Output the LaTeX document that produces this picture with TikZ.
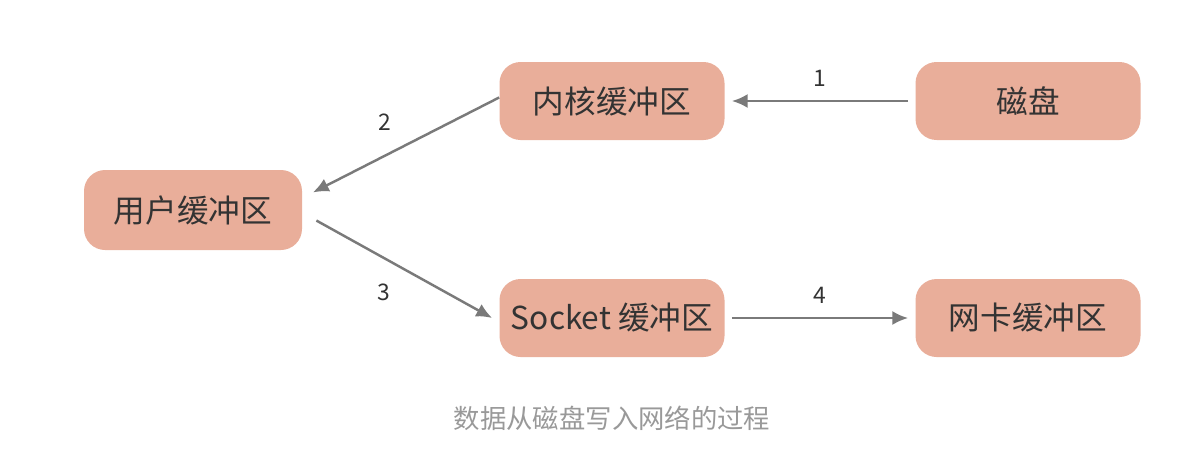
\documentclass[tikz,border=0pt]{standalone}
\usepackage{fontspec}
\setmainfont{Noto Sans CJK SC}
\usetikzlibrary{positioning}
\usetikzlibrary{arrows.meta}
\definecolor{boxfill}{HTML}{E9AE9A}
\definecolor{arrowgray}{HTML}{7A7A7A}
\tikzset{
	buffer/.style = {draw=none, fill=boxfill, rounded corners=12pt, minimum width=4.5cm, minimum height=1.56cm, font=\fontsize{18}{20}\selectfont, text=black!80},
	flow/.style = {-{Latex[length=9pt,width=8pt]}, line width=1.4pt, arrowgray},
	stepnum/.style = {font=\fontsize{13}{15}\selectfont, text=black!80}
}
\begin{document}
\begin{tikzpicture}
		\useasboundingbox (0,0) rectangle (24,-9.08);
		% buffers
		\node[buffer] (kernel) at (12.24,-2.02) {内核缓冲区};
		\node[buffer] (disk) at (20.56,-2.02) {磁盘};
		\node[buffer, minimum width=4.36cm, minimum height=1.6cm] (user) at (3.86,-4.2) {用户缓冲区};
		\node[buffer] (socket) at (12.24,-6.36) {Socket 缓冲区};
		\node[buffer] (nic) at (20.56,-6.36) {网卡缓冲区};
		% connectors
		\draw[flow] ([xshift=-4pt]disk.west) -- node[stepnum, above=4pt] {1} ([xshift=4pt]kernel.east);
		\draw[flow] ([yshift=2pt]kernel.west) -- node[stepnum, above left=6pt] {2} ([xshift=6pt,yshift=10pt]user.east);
		\draw[flow] ([xshift=8pt,yshift=-6pt]user.east) -- node[stepnum, below left=6pt] {3} ([xshift=-4pt]socket.west);
		\draw[flow] ([xshift=4pt]socket.east) -- node[stepnum, above=4pt] {4} ([xshift=-4pt]nic.west);
		% caption
		\node[font=\fontsize{15}{17}\selectfont, text=black!40] (caption) at (12.24,-8.36) {数据从磁盘写入网络的过程};
\end{tikzpicture}
\end{document}
